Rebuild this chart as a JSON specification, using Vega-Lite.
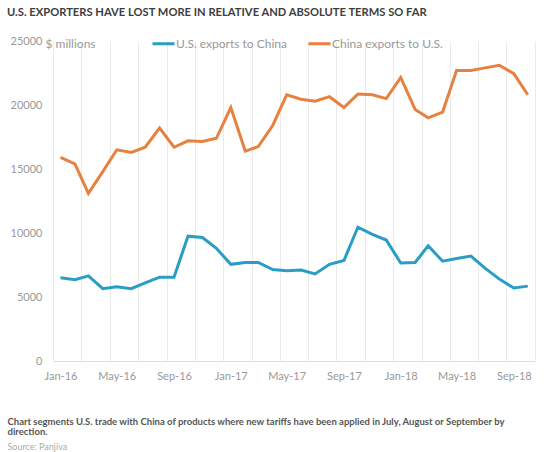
{
  "$schema": "https://vega.github.io/schema/vega-lite/v6.json",
  "width": 482,
  "height": 320,
  "autosize": {"type": "none"},
  "padding": {"left": 53, "top": 41, "right": 15, "bottom": 91},
  "background": "white",
  "config": {"font": "Lato", "view": {"stroke": null}},
  "title": {
    "text": "U.S. EXPORTERS HAVE LOST MORE IN RELATIVE AND ABSOLUTE TERMS SO FAR",
    "anchor": "start",
    "frame": "group",
    "dx": -46,
    "offset": 13,
    "font": "Lato",
    "fontSize": 11.2,
    "fontWeight": "bold",
    "color": "#3d3d3d"
  },
  "data": {
    "format": {"parse": {"date": "utc:'%Y-%m-%d'"}},
    "values": [
      {"date": "2016-01-01", "series": "U.S. exports to China", "value": 6500},
      {"date": "2016-02-01", "series": "U.S. exports to China", "value": 6350},
      {"date": "2016-03-01", "series": "U.S. exports to China", "value": 6650},
      {"date": "2016-04-01", "series": "U.S. exports to China", "value": 5650},
      {"date": "2016-05-01", "series": "U.S. exports to China", "value": 5800},
      {"date": "2016-06-01", "series": "U.S. exports to China", "value": 5650},
      {"date": "2016-07-01", "series": "U.S. exports to China", "value": 6100},
      {"date": "2016-08-01", "series": "U.S. exports to China", "value": 6550},
      {"date": "2016-09-01", "series": "U.S. exports to China", "value": 6550},
      {"date": "2016-10-01", "series": "U.S. exports to China", "value": 9750},
      {"date": "2016-11-01", "series": "U.S. exports to China", "value": 9650},
      {"date": "2016-12-01", "series": "U.S. exports to China", "value": 8800},
      {"date": "2017-01-01", "series": "U.S. exports to China", "value": 7550},
      {"date": "2017-02-01", "series": "U.S. exports to China", "value": 7700},
      {"date": "2017-03-01", "series": "U.S. exports to China", "value": 7700},
      {"date": "2017-04-01", "series": "U.S. exports to China", "value": 7150},
      {"date": "2017-05-01", "series": "U.S. exports to China", "value": 7050},
      {"date": "2017-06-01", "series": "U.S. exports to China", "value": 7100},
      {"date": "2017-07-01", "series": "U.S. exports to China", "value": 6800},
      {"date": "2017-08-01", "series": "U.S. exports to China", "value": 7550},
      {"date": "2017-09-01", "series": "U.S. exports to China", "value": 7850},
      {"date": "2017-10-01", "series": "U.S. exports to China", "value": 10450},
      {"date": "2017-11-01", "series": "U.S. exports to China", "value": 9900},
      {"date": "2017-12-01", "series": "U.S. exports to China", "value": 9450},
      {"date": "2018-01-01", "series": "U.S. exports to China", "value": 7650},
      {"date": "2018-02-01", "series": "U.S. exports to China", "value": 7700},
      {"date": "2018-03-01", "series": "U.S. exports to China", "value": 9000},
      {"date": "2018-04-01", "series": "U.S. exports to China", "value": 7800},
      {"date": "2018-05-01", "series": "U.S. exports to China", "value": 8000},
      {"date": "2018-06-01", "series": "U.S. exports to China", "value": 8200},
      {"date": "2018-07-01", "series": "U.S. exports to China", "value": 7250},
      {"date": "2018-08-01", "series": "U.S. exports to China", "value": 6400},
      {"date": "2018-09-01", "series": "U.S. exports to China", "value": 5700},
      {"date": "2018-10-01", "series": "U.S. exports to China", "value": 5850},
      {"date": "2016-01-01", "series": "China exports to U.S.", "value": 15900},
      {"date": "2016-02-01", "series": "China exports to U.S.", "value": 15400},
      {"date": "2016-03-01", "series": "China exports to U.S.", "value": 13100},
      {"date": "2016-04-01", "series": "China exports to U.S.", "value": 14800},
      {"date": "2016-05-01", "series": "China exports to U.S.", "value": 16500},
      {"date": "2016-06-01", "series": "China exports to U.S.", "value": 16300},
      {"date": "2016-07-01", "series": "China exports to U.S.", "value": 16700},
      {"date": "2016-08-01", "series": "China exports to U.S.", "value": 18200},
      {"date": "2016-09-01", "series": "China exports to U.S.", "value": 16700},
      {"date": "2016-10-01", "series": "China exports to U.S.", "value": 17200},
      {"date": "2016-11-01", "series": "China exports to U.S.", "value": 17150},
      {"date": "2016-12-01", "series": "China exports to U.S.", "value": 17400},
      {"date": "2017-01-01", "series": "China exports to U.S.", "value": 19800},
      {"date": "2017-02-01", "series": "China exports to U.S.", "value": 16400},
      {"date": "2017-03-01", "series": "China exports to U.S.", "value": 16750},
      {"date": "2017-04-01", "series": "China exports to U.S.", "value": 18400},
      {"date": "2017-05-01", "series": "China exports to U.S.", "value": 20800},
      {"date": "2017-06-01", "series": "China exports to U.S.", "value": 20450},
      {"date": "2017-07-01", "series": "China exports to U.S.", "value": 20300},
      {"date": "2017-08-01", "series": "China exports to U.S.", "value": 20650},
      {"date": "2017-09-01", "series": "China exports to U.S.", "value": 19800},
      {"date": "2017-10-01", "series": "China exports to U.S.", "value": 20850},
      {"date": "2017-11-01", "series": "China exports to U.S.", "value": 20800},
      {"date": "2017-12-01", "series": "China exports to U.S.", "value": 20500},
      {"date": "2018-01-01", "series": "China exports to U.S.", "value": 22150},
      {"date": "2018-02-01", "series": "China exports to U.S.", "value": 19650},
      {"date": "2018-03-01", "series": "China exports to U.S.", "value": 19000},
      {"date": "2018-04-01", "series": "China exports to U.S.", "value": 19450},
      {"date": "2018-05-01", "series": "China exports to U.S.", "value": 22700},
      {"date": "2018-06-01", "series": "China exports to U.S.", "value": 22700},
      {"date": "2018-07-01", "series": "China exports to U.S.", "value": 22900},
      {"date": "2018-08-01", "series": "China exports to U.S.", "value": 23100},
      {"date": "2018-09-01", "series": "China exports to U.S.", "value": 22450},
      {"date": "2018-10-01", "series": "China exports to U.S.", "value": 20800}
    ]
  },
  "encoding": {
    "y": {
      "field": "value",
      "type": "quantitative",
      "scale": {"domain": [0, 25000], "nice": false, "zero": true},
      "axis": {
        "values": [0, 5000, 10000, 15000, 20000, 25000],
        "format": "d",
        "grid": false,
        "ticks": false,
        "domain": false,
        "labelFont": "Lato",
        "labelFontSize": 11,
        "labelColor": "#999999",
        "labelPadding": 11,
        "title": "$ millions",
        "titleAngle": 0,
        "titleX": -8,
        "titleY": 2,
        "titleAlign": "left",
        "titleBaseline": "middle",
        "titleFont": "Lato",
        "titleFontSize": 12,
        "titleFontWeight": "normal",
        "titleColor": "#999999"
      }
    },
    "color": {
      "field": "series",
      "type": "nominal",
      "scale": {
        "domain": ["U.S. exports to China", "China exports to U.S."],
        "range": ["#2a9dc6", "#e8803f"]
      },
      "legend": {
        "orient": "none",
        "legendX": 98,
        "legendY": -10,
        "direction": "horizontal",
        "title": null,
        "symbolType": "stroke",
        "symbolSize": 484,
        "symbolStrokeWidth": 3,
        "labelFont": "Lato",
        "labelFontSize": 12,
        "labelColor": "#999999",
        "labelOffset": 0,
        "columnPadding": 15,
        "padding": 0
      }
    }
  },
  "layer": [
    {
      "mark": {"type": "line", "strokeWidth": 3},
      "encoding": {
        "x": {
          "field": "date",
          "type": "temporal",
          "scale": {
            "type": "utc",
            "domain": [
              {"year": 2015, "month": 12, "date": 16, "utc": true},
              {"year": 2018, "month": 10, "date": 16, "hours": 12, "utc": true}
            ]
          },
          "axis": {
            "orient": "bottom",
            "grid": true,
            "gridColor": "#ebebeb",
            "gridWidth": 1,
            "labels": false,
            "ticks": false,
            "domain": true,
            "domainColor": "#dddddd",
            "values": [
              {"year": 2015, "month": 12, "date": 16, "utc": true},
              {"year": 2016, "month": 2, "date": 15, "utc": true},
              {"year": 2016, "month": 4, "date": 16, "utc": true},
              {"year": 2016, "month": 6, "date": 16, "utc": true},
              {"year": 2016, "month": 8, "date": 16, "utc": true},
              {"year": 2016, "month": 10, "date": 16, "utc": true},
              {"year": 2016, "month": 12, "date": 16, "utc": true},
              {"year": 2017, "month": 2, "date": 15, "utc": true},
              {"year": 2017, "month": 4, "date": 16, "utc": true},
              {"year": 2017, "month": 6, "date": 16, "utc": true},
              {"year": 2017, "month": 8, "date": 16, "utc": true},
              {"year": 2017, "month": 10, "date": 16, "utc": true},
              {"year": 2017, "month": 12, "date": 16, "utc": true},
              {"year": 2018, "month": 2, "date": 15, "utc": true},
              {"year": 2018, "month": 4, "date": 16, "utc": true},
              {"year": 2018, "month": 6, "date": 16, "utc": true},
              {"year": 2018, "month": 8, "date": 16, "utc": true},
              {"year": 2018, "month": 10, "date": 16, "hours": 12, "utc": true}
            ],
            "title": "Source: Panjiva",
            "titleX": -46,
            "titleY": 85,
            "titleAlign": "left",
            "titleBaseline": "middle",
            "titleFont": "Lato",
            "titleFontSize": 9,
            "titleFontWeight": "normal",
            "titleColor": "#aaaaaa"
          }
        }
      }
    },
    {
      "mark": {"type": "line", "strokeWidth": 3, "opacity": 0},
      "encoding": {
        "x": {
          "field": "date",
          "type": "temporal",
          "scale": {
            "type": "utc",
            "domain": [
              {"year": 2015, "month": 12, "date": 16, "utc": true},
              {"year": 2018, "month": 10, "date": 16, "hours": 12, "utc": true}
            ]
          },
          "axis": {
            "orient": "bottom",
            "grid": false,
            "ticks": false,
            "domain": false,
            "values": [
              {"year": 2016, "month": 1, "date": 1, "utc": true},
              {"year": 2016, "month": 5, "date": 1, "utc": true},
              {"year": 2016, "month": 9, "date": 1, "utc": true},
              {"year": 2017, "month": 1, "date": 1, "utc": true},
              {"year": 2017, "month": 5, "date": 1, "utc": true},
              {"year": 2017, "month": 9, "date": 1, "utc": true},
              {"year": 2018, "month": 1, "date": 1, "utc": true},
              {"year": 2018, "month": 5, "date": 1, "utc": true},
              {"year": 2018, "month": 9, "date": 1, "utc": true}
            ],
            "format": "%b-%y",
            "labelFont": "Lato",
            "labelFontSize": 11,
            "labelColor": "#999999",
            "labelPadding": 9,
            "title": ["Chart segments U.S. trade with China of products where new tariffs have been applied in July, August or September by", "direction."],
            "titleX": -46,
            "titleY": 55,
            "titleAlign": "left",
            "titleBaseline": "top",
            "titleLineHeight": 10.5,
            "titleFont": "Lato",
            "titleFontSize": 9.5,
            "titleFontWeight": "bold",
            "titleColor": "#555555"
          }
        }
      }
    }
  ],
  "resolve": {"axis": {"x": "independent"}}
}
